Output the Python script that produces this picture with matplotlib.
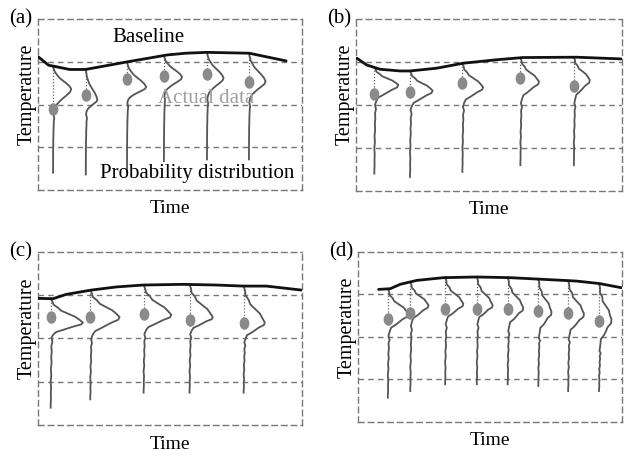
import numpy as np
import matplotlib
matplotlib.use("Agg")
import matplotlib.pyplot as plt
from matplotlib.path import Path
from matplotlib.transforms import Affine2D

plt.rcParams['font.family'] = ['Liberation Serif', 'DejaVu Serif']

# ---- data (time and temperature in arbitrary units, 0-100 per panel) ----
grid_levels = [25, 50, 75]

# baselines
base_a_t = [0, 4, 12, 18, 34, 49, 56, 64, 80, 94]
base_a_T = [78, 73, 70.5, 70.5, 75, 79, 80, 80.5, 80, 75.5]
base_b_t = [0.3, 4, 9, 16.5, 20.3, 30.3, 40.3, 52.8, 62.8, 82.9, 99.7]
base_b_T = [77.2, 73.3, 70.8, 69.8, 69.8, 71.4, 74.3, 76.3, 77.6, 77.8, 76.8]
base_c_t = [0, 5.7, 10.7, 20.2, 29.7, 39.8, 54.9, 67.6, 77.7, 86.5, 99.7]
base_c_T = [73.2, 73.0, 75.5, 78.0, 79.8, 80.9, 81.3, 80.9, 80.3, 80.3, 78.0]
base_d_t = [7.8, 12.2, 16.0, 22.3, 32.4, 45.0, 57.6, 70.2, 82.7, 91.6, 99.7]
base_d_T = [78.0, 78.4, 81.0, 83.3, 84.9, 85.3, 84.9, 83.9, 82.9, 81.4, 79.0]

# distributions: time, peak temperature, peak width, end of bump, bottom, actual value
dist_a_t = [5.7, 18.1, 33.7, 47.7, 64.0, 79.9]
dist_a_peak = [59.1, 52.9, 60.3, 66.1, 65.6, 63.6]
dist_a_w = [6.9, 4.4, 7.3, 6.9, 6.3, 6.3]
dist_a_end = [44.2, 44.2, 51.0, 54.9, 52.9, 51.0]
dist_a_low = [10.1, 9.1, 10.1, 16.9, 17.9, 17.9]
actual_a = [47.1, 55.4, 65.2, 66.5, 68.1, 63.2]

dist_b_t = [6.9, 20.3, 40.0, 61.8, 81.9]
dist_b_peak = [61.7, 58.4, 60.3, 63.6, 64.6]
dist_b_w = [9.0, 8.5, 7.8, 7.0, 6.0]
dist_b_end = [50.0, 47.1, 49.0, 51.0, 51.0]
dist_b_low = [10.1, 8.2, 11.1, 15.0, 15.0]
actual_b = [56.2, 57.8, 62.6, 65.6, 61.3]

dist_c_t = [4.8, 19.8, 40.0, 57.4, 77.9]
dist_c_peak = [59.2, 62.4, 63.6, 62.4, 59.2]
dist_c_w = [12.2, 11.1, 10.5, 8.8, 8.0]
dist_c_end = [50.5, 49.5, 52.4, 52.4, 47.6]
dist_c_low = [10.0, 14.8, 18.7, 18.7, 18.7]
actual_c = [62.6, 62.6, 64.0, 60.5, 59.2]

dist_d_t = [11.3, 19.8, 33.0, 45.0, 56.7, 68.3, 79.6, 91.3]
dist_d_peak = [63.7, 68.8, 69.6, 68.8, 67.3, 64.9, 63.7, 60.4]
dist_d_w = [7.8, 6.9, 6.9, 6.0, 5.9, 5.0, 6.0, 4.7]
dist_d_end = [50.6, 56.5, 57.5, 57.5, 53.5, 49.6, 48.6, 41.8]
dist_d_low = [14.3, 18.2, 22.2, 22.2, 22.2, 21.2, 18.2, 18.2]
actual_d = [60.8, 63.9, 66.7, 66.7, 66.7, 65.3, 64.3, 59.4]

# shape of one distribution curve
bump_v = [0, .125, .25, .375, .5, .625, .75, .875, 1, 1.125, 1.25, 1.375, 1.5, 1.625, 1.75, 1.875, 2]
bump_f = [0, .04, .1, .2, .34, .52, .72, .9, 1, .93, .75, .53, .34, .19, .09, .04, .02]
bump_wiggle = [0, .3, -.2, .4, -.3, .2, .5, -.2, 0, .3, -.4, .2, .4, -.3, .2, .3, .1]
tail_u = [0, .06, .12, .2, .28, .36, .45, .54, .63, .72, .8, .88, .95, 1]
tail_f = [1.0, .7, .5, .35, .25, .18, .12, .08, .05, .03, .02, .01, 0, 0]
tail_wiggle = [.2, .5, -.1, .4, .1, .5, 0, .4, -.1, .3, .1, .2, 0, 0]

panels = [
    ('(a)', [0.0608, 0.5842, 0.4224, 0.3742], base_a_t, base_a_T,
     dist_a_t, dist_a_peak, dist_a_w, dist_a_end, dist_a_low, actual_a, 0.1),
    ('(b)', [0.5696, 0.5820, 0.4256, 0.3764], base_b_t, base_b_T,
     dist_b_t, dist_b_peak, dist_b_w, dist_b_end, dist_b_low, actual_b, 0.55),
    ('(c)', [0.0608, 0.0700, 0.4224, 0.3786], base_c_t, base_c_T,
     dist_c_t, dist_c_peak, dist_c_w, dist_c_end, dist_c_low, actual_c, 0.7),
    ('(d)', [0.5728, 0.0766, 0.4224, 0.3720], base_d_t, base_d_T,
     dist_d_t, dist_d_peak, dist_d_w, dist_d_end, dist_d_low, actual_d, 0.7),
]

dash = (0, (4, 3))
grid_color = '#777777'
dist_color = '#555555'
dot_color = '#8a8a8a'

# slightly tall ellipse for the data points
circle = Path.unit_circle()
dot_marker = Path(Affine2D().scale(0.75, 1.0).transform(circle.vertices), circle.codes)

fig = plt.figure(figsize=(6.25, 4.57), dpi=100)

for label, rect, bt, bT, dt, dpk, dw, dend, dlow, actual, rough in panels:
    ax = fig.add_axes(rect)
    ax.set_xlim(0, 100)
    ax.set_ylim(0, 100)
    ax.set_xticks([])
    ax.set_yticks([])
    for sp in ax.spines.values():
        sp.set_linestyle(dash)
        sp.set_color(grid_color)
        sp.set_linewidth(1.0)

    for lev in grid_levels:
        ax.axhline(lev, color=grid_color, lw=1.0, linestyle=dash, zorder=1)

    ax.plot(bt, bT, color='#111111', lw=2.0, zorder=4, solid_capstyle='round')

    for i in range(len(dt)):
        top = np.interp(dt[i], bt, bT)
        v = np.array(bump_v)
        ys_bump = np.where(v <= 1, top - v * (top - dpk[i]), dpk[i] - (v - 1) * (dpk[i] - dend[i]))
        xs_bump = dt[i] + dw[i] * np.array(bump_f) + rough * np.array(bump_wiggle) * (v > 0)
        u = np.array(tail_u)
        ys_tail = dend[i] - u * (dend[i] - dlow[i])
        xs_tail = dt[i] + 0.6 * np.array(tail_f) + rough * 0.7 * np.array(tail_wiggle)
        xs = np.concatenate([xs_bump, xs_tail[1:]])
        ys = np.concatenate([ys_bump, ys_tail[1:]])
        ax.plot(xs, ys, color=dist_color, lw=1.3, zorder=3)
        ax.plot([dt[i], dt[i]], [top, actual[i]], color='#666666', lw=0.9,
                linestyle=(0, (1, 1.5)), zorder=2)
        ax.plot(dt[i], actual[i], marker=dot_marker, markersize=8,
                color=dot_color, linestyle='none', zorder=5)

    ax.text(-0.065, 1.0, label, transform=ax.transAxes, fontsize=15,
            ha='center', va='center', clip_on=False)
    ax.text(-0.04, 0.56, 'Temperature', transform=ax.transAxes, fontsize=14.5,
            rotation=90, ha='center', va='center')
    ax.text(0.5, -0.11, 'Time', transform=ax.transAxes, fontsize=14,
            ha='center', va='center')

    if label == '(a)':
        ax.text(41.7, 88.9, 'Baseline', fontsize=15, ha='center', va='center')
        ax.text(63.6, 53.8, 'Actual data', fontsize=15, color='#a0a0a0',
                ha='center', va='center', zorder=6)
        ax.text(60.2, 9.4, 'Probability distribution', fontsize=15,
                ha='center', va='center', zorder=6)

fig.savefig('out.png', dpi=100)
